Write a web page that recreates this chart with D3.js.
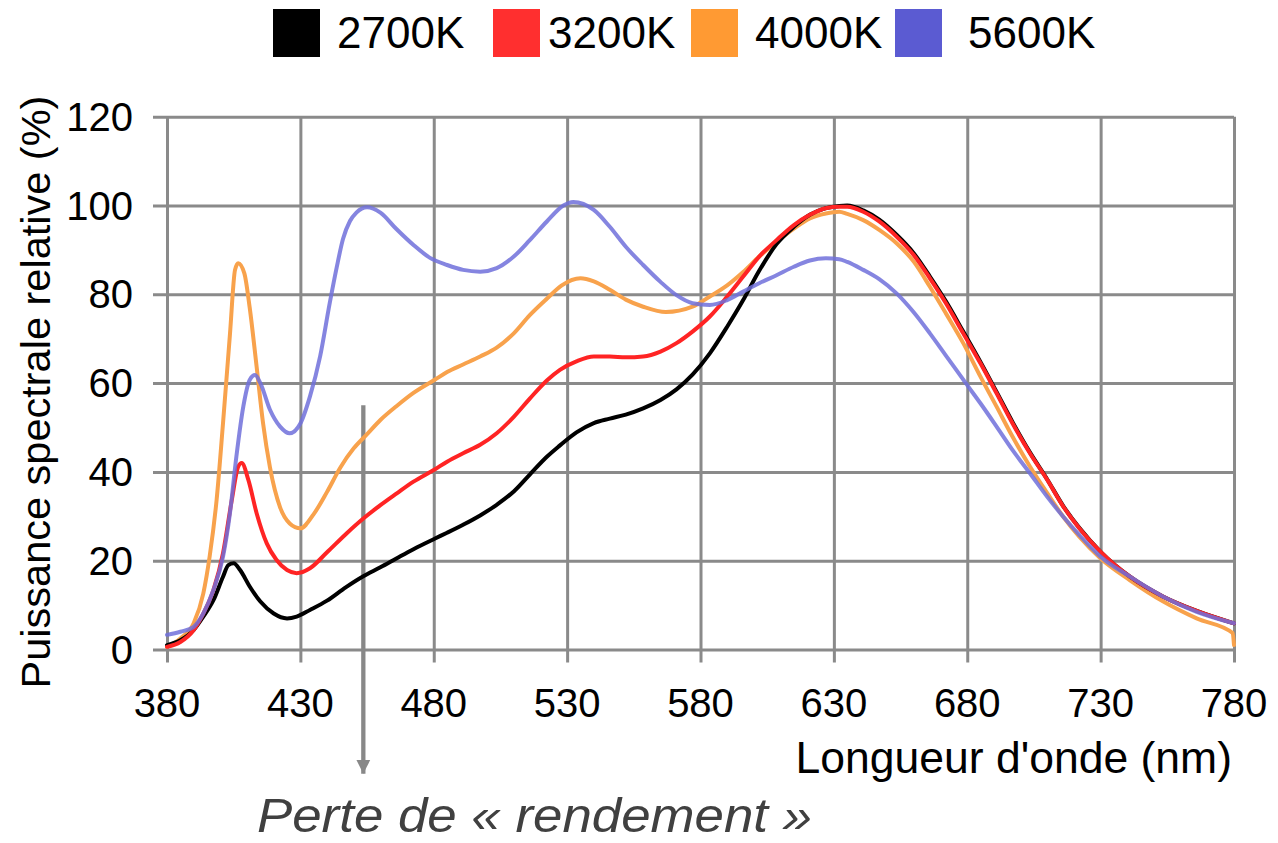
<!DOCTYPE html>
<html>
<head>
<meta charset="utf-8">
<script src="https://cdn.jsdelivr.net/npm/d3@7"></script>
<style>
  body { margin: 0; background: #fff; }
  text { font-family: "Liberation Sans", Arial, Helvetica, sans-serif; fill: #000; }
  .grid line { stroke: #8a8a8a; stroke-width: 3px; }
  .grid path { display: none; }
  .curve { fill: none; stroke-width: 4px; stroke-linejoin: round; stroke-linecap: round; }
</style>
</head>
<body>
<svg id="chart" width="1278" height="843"></svg>
<script>
// spectra: [wavelength nm, relative power %]
var spectrum2700 = [[380,1],[385,2.1],[390,4.4],[393.6,7.4],[397.4,11.1],[401,16.4],[403,19],[405,19.4],[407.4,17.9],[411,14.2],[415,10.8],[420,8.1],[425,7],[428.6,7.4],[433.6,8.9],[440,11],[447,14],[453.6,16.5],[460,18.5],[466,20.5],[472.4,22.6],[480.5,25],[485,26.3],[491,28.1],[497.4,30.2],[503.6,32.6],[510,35.6],[516,39.4],[522.4,43.4],[527,45.8],[533.5,48.9],[540,51],[546,52],[552,52.9],[558.5,54.3],[565,56.2],[571,58.6],[577,61.9],[583.5,66.7],[590,72.7],[596,78.7],[602,85.3],[608.5,91.3],[615,95.2],[621,97.9],[627,99.4],[632,99.9],[635,100],[641,98.9],[647,96.8],[653.5,93.4],[660,89.2],[666,84],[672,78.4],[678.5,71.6],[685,64.7],[691,58],[697,51.2],[703.5,44.4],[710,38.3],[716,32.3],[722,27.4],[730,22],[741,16.4],[753.5,11.9],[766,8.7],[780,5.9]];
var spectrum3200 = [[380,0.6],[385,1.7],[390,4.4],[393.6,8.1],[397.4,13.4],[401,21.7],[404.3,33.7],[406.7,41.2],[408,42],[410.5,38.2],[413.6,30.7],[417.4,23.9],[421,20.2],[425,17.9],[428.6,17.2],[433.6,18.3],[440,21.9],[447.4,26.2],[453.6,29.5],[460,32.5],[466,35.1],[472.4,37.8],[480.5,40.6],[485,42.3],[491,44.2],[497.4,46.1],[503.6,48.7],[510,52.4],[516,56.5],[522.4,60.6],[527.3,63],[533.5,64.9],[540,66],[546,66],[552,65.8],[558.5,66],[565,67.1],[571,69],[577,71.6],[583.5,75],[590,79.5],[596,84],[602,88.5],[608.5,92.2],[615,95.6],[621,97.9],[627,99.4],[632,99.7],[635,99.7],[641,98.6],[647,96.4],[653.5,93],[660,88.8],[666,83.6],[672,78],[678.5,71.2],[685,64.4],[691,57.7],[697,50.9],[703.5,44.2],[710,38.2],[716,32.2],[722,27.3],[730,22],[741,16.4],[753.5,11.9],[766,8.7],[780,5.9]];
var spectrum4000 = [[380,0.6],[385,2.5],[390,5.9],[393.6,12.6],[396,21],[398.6,33.7],[401,51],[403.6,71],[405.5,85.5],[406.7,87],[409,84.7],[411,77],[413.6,63.7],[416,51],[418.6,41],[422.4,32],[426,28.4],[430,27.3],[435,30.5],[440,35.5],[445,41],[450,45.3],[455,48.5],[460,51.7],[466,54.8],[472.4,57.8],[480.5,60.8],[485,62.5],[491,64.2],[497.4,66],[503.6,68],[510,71.2],[516,75.3],[522.4,79],[528,82],[535,83.6],[540,82.9],[546,81],[552,78.8],[558.5,77.2],[567,76],[577,77.2],[583.5,79.5],[590,82],[596,85],[602,88.5],[608.5,91.8],[615,94.8],[621,97.1],[627,98.2],[632,98.6],[635,98.1],[641,96.7],[647,94.5],[653.5,91.5],[660,87.3],[666,81.7],[672,75.7],[678.5,69],[685,61.4],[691,54.7],[697,47.9],[703.5,41.2],[710,35.2],[716,29.9],[722,25.4],[730,20.5],[741,15.6],[753.5,10.8],[766,7],[779.5,3.7],[780,1]];
var spectrum5600 = [[380,3.3],[385,4],[390,5.1],[393.6,8.1],[397.4,13.4],[401,20.9],[403.6,30.7],[406,43.4],[408.6,54.7],[411,60.7],[413,61.8],[415,60],[418.6,54],[422.4,50.2],[426,48.7],[430,50.9],[433.6,57],[437.4,66],[441,78],[443.6,86],[446,92.5],[448.6,96.5],[451,98.4],[455,99.6],[460,98.4],[466,94.7],[472.4,91.1],[478.6,88.2],[485,86.6],[491,85.5],[497.4,85.1],[503.6,85.9],[510,88.5],[516,92.2],[522.4,96.4],[528.6,100],[532.3,100.8],[540,99],[546,95.2],[552,90.7],[558.5,86.6],[565,82.8],[571,79.8],[577,78],[583.5,77.6],[590,78.7],[596,80.6],[602,82.5],[608.5,84.3],[615,86.2],[621,87.6],[627,88.1],[632,87.9],[635,87.3],[641,85.5],[647,83.4],[653.5,80.2],[660,75.9],[666,71.2],[672,66.2],[680.4,59.2],[685,55.4],[691,50.2],[697,44.9],[703.5,39.7],[710,34.4],[716,29.9],[722,25.8],[730,20.9],[741,16.4],[753.5,11.9],[766,8.5],[780,5.9]];

var seriesNames = ["2700K", "3200K", "4000K", "5600K"];
var xTicks = [380, 430, 480, 530, 580, 630, 680, 730, 780];
var yTicks = [0, 20, 40, 60, 80, 100, 120];

var xTitle = "Longueur d'onde (nm)";
var yTitle = "Puissance spectrale relative (%)";
var note = "Perte de « rendement »";
// arrow: wavelength, from value, to value (below the axis)
var arrowAt = [453.6, 55, -28];

var svg = d3.select("#chart");

var x = d3.scaleLinear().domain([380, 780]).range([167, 1234]);
var y = d3.scaleLinear().domain([0, 120]).range([649.5, 116.7]);

var colors = { "2700K": "#000000", "3200K": "#ff2f2f", "4000K": "#ff9a33", "5600K": "#5b5bd2" };
var lineColors = { "2700K": "#000000", "3200K": "#ff2424", "4000K": "#f8a24c", "5600K": "#7070da" };

// grid (ticks run a bit past the frame, like the original)
svg.append("g")
  .attr("class", "grid")
  .attr("transform", "translate(0," + y(0) + ")")
  .call(d3.axisBottom(x).tickValues(xTicks).tickSize(-(y(0) - y(120))).tickSizeOuter(0).tickFormat(""))
  .selectAll("line").attr("y2", function() { return -(y(0) - y(120)); }).attr("y1", 13);

svg.append("g")
  .attr("class", "grid")
  .attr("transform", "translate(" + x(780) + ",0)")
  .call(d3.axisLeft(y).tickValues(yTicks).tickSize(x(780) - x(380) + 14).tickSizeOuter(0).tickFormat(""));

// tick labels
svg.append("g").selectAll("text")
  .data(xTicks)
  .enter().append("text")
    .attr("x", function(d) { return x(d); })
    .attr("y", y(0) + 67)
    .attr("text-anchor", "middle")
    .style("font-size", "40px")
    .text(function(d) { return d; });

svg.append("g").selectAll("text")
  .data(yTicks)
  .enter().append("text")
    .attr("x", 133)
    .attr("y", function(d) { return y(d) + 14; })
    .attr("text-anchor", "end")
    .style("font-size", "40px")
    .text(function(d) { return d; });

// axis titles
svg.append("text")
  .attr("x", 1232)
  .attr("y", 773)
  .attr("text-anchor", "end")
  .style("font-size", "44.5px")
  .text(xTitle);

svg.append("text")
  .attr("transform", "translate(50,392) rotate(-90)")
  .attr("text-anchor", "middle")
  .style("font-size", "41.5px")
  .text(yTitle);

// annotation arrow
svg.append("defs").append("marker")
  .attr("id", "head")
  .attr("viewBox", "0 0 10 10")
  .attr("refX", 10).attr("refY", 5)
  .attr("markerWidth", 3.2).attr("markerHeight", 3.4)
  .attr("markerUnits", "strokeWidth")
  .attr("orient", "auto")
  .append("path").attr("d", "M0,0L10,5L0,10Z").attr("fill", "#888");

svg.append("line")
  .attr("x1", x(arrowAt[0])).attr("x2", x(arrowAt[0]))
  .attr("y1", y(arrowAt[1])).attr("y2", y(arrowAt[2]))
  .attr("stroke", "#888")
  .attr("stroke-width", 4.3)
  .attr("marker-end", "url(#head)");

svg.append("text")
  .attr("x", 257)
  .attr("y", 832)
  .attr("textLength", 555)
  .attr("lengthAdjust", "spacingAndGlyphs")
  .style("font-size", "48px")
  .style("font-style", "italic")
  .style("fill", "#404040")
  .text(note);

// spectra
var line = d3.line()
  .x(function(d) { return x(d[0]); })
  .y(function(d) { return y(d[1]); })
  .curve(d3.curveMonotoneX);

var drawOrder = [
  { name: "4000K", data: spectrum4000, opacity: 1 },
  { name: "2700K", data: spectrum2700, opacity: 1 },
  { name: "3200K", data: spectrum3200, opacity: 1 },
  { name: "5600K", data: spectrum5600, opacity: 0.85 }
];

svg.append("g").selectAll("path")
  .data(drawOrder)
  .enter().append("path")
    .attr("class", "curve")
    .attr("d", function(d) { return line(d.data); })
    .style("stroke", function(d) { return lineColors[d.name]; })
    .style("stroke-opacity", function(d) { return d.opacity; });

// legend
var legendX = [273, 493, 691, 895];
var legend = svg.append("g");
var item = legend.selectAll("g")
  .data(seriesNames)
  .enter().append("g")
    .attr("transform", function(d, i) { return "translate(" + legendX[i] + ",0)"; });

item.append("rect")
  .attr("x", 0).attr("y", 9)
  .attr("width", 47).attr("height", 48)
  .style("fill", function(d) { return colors[d]; });

item.append("text")
  .attr("x", function(d, i) { return i === 3 ? 73 : (i === 1 ? 55 : 64); })
  .attr("y", 48)
  .style("font-size", "44px")
  .text(function(d) { return d; });
</script>
</body>
</html>
